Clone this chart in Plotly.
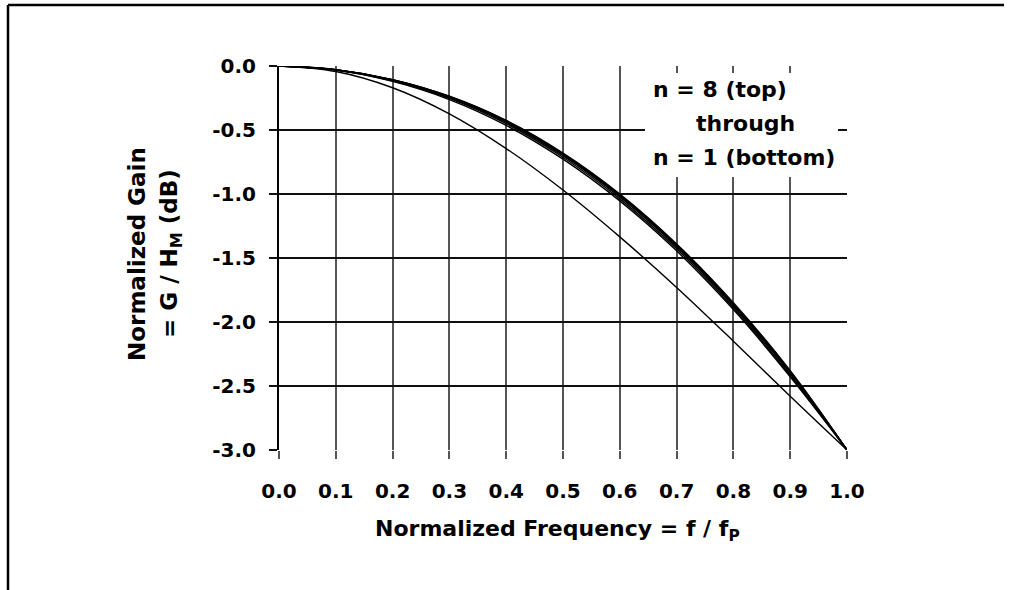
import plotly.graph_objects as go

# ---- data ----
freq = [0.0, 0.1, 0.2, 0.3, 0.4, 0.5, 0.6, 0.7, 0.8, 0.9, 1.0]

gain_n1 = [0.0, -0.043, -0.170, -0.374, -0.645, -0.969, -1.335, -1.730, -2.150, -2.580, -3.0]
gain_n2 = [0.0, -0.032, -0.120, -0.262, -0.464, -0.728, -1.054, -1.444, -1.903, -2.428, -3.0]
gain_n3 = [0.0, -0.031, -0.115, -0.253, -0.451, -0.713, -1.038, -1.428, -1.889, -2.416, -3.0]
gain_n4 = [0.0, -0.030, -0.111, -0.246, -0.441, -0.700, -1.024, -1.414, -1.875, -2.404, -3.0]
gain_n5 = [0.0, -0.029, -0.109, -0.242, -0.435, -0.693, -1.016, -1.406, -1.867, -2.396, -3.0]
gain_n6 = [0.0, -0.029, -0.108, -0.240, -0.431, -0.688, -1.010, -1.400, -1.861, -2.390, -3.0]
gain_n7 = [0.0, -0.028, -0.107, -0.238, -0.428, -0.684, -1.005, -1.395, -1.855, -2.385, -3.0]
gain_n8 = [0.0, -0.028, -0.106, -0.236, -0.425, -0.680, -1.000, -1.390, -1.850, -2.380, -3.0]

series_names = ["n = 1", "n = 2", "n = 3", "n = 4", "n = 5", "n = 6", "n = 7", "n = 8"]
series_values = [gain_n1, gain_n2, gain_n3, gain_n4, gain_n5, gain_n6, gain_n7, gain_n8]

x_ticks = [0.0, 0.1, 0.2, 0.3, 0.4, 0.5, 0.6, 0.7, 0.8, 0.9, 1.0]
y_ticks = [0.0, -0.5, -1.0, -1.5, -2.0, -2.5, -3.0]

# ---- figure ----
W, H = 1013, 590
L, R, T, B = 279, 847, 66, 450  # plot area in pixels

def px(xp):
    return (xp - L) / (R - L)

def py(yp):
    return (B - yp) / (B - T)

FONT = "DejaVu Sans, Liberation Sans, Arial, sans-serif"

fig = go.Figure()
for name, vals in zip(series_names, series_values):
    fig.add_trace(go.Scatter(
        x=freq, y=vals, mode="lines", name=name,
        line=dict(color="black", width=1.4, shape="spline", smoothing=1.0),
        showlegend=False,
    ))

fig.update_layout(
    width=W, height=H,
    margin=dict(l=L, r=W - R, t=T, b=H - B, pad=0),
    paper_bgcolor="white", plot_bgcolor="white",
    font=dict(family=FONT, color="black"),
)

fig.update_xaxes(
    range=[0, 1], tickvals=x_ticks, ticktext=[f"{v:.1f}" for v in x_ticks],
    showgrid=True, gridcolor="#555555", gridwidth=1.6,
    ticks="outside", ticklen=8, tickwidth=1.6, tickcolor="#555555",
    tickfont=dict(family=FONT, size=20, weight="bold"),
    ticklabelstandoff=15,
    zeroline=False, showline=False,
)
fig.update_yaxes(
    range=[-3, 0], tickvals=y_ticks, ticktext=[f"{v:.1f}" for v in y_ticks],
    showgrid=True, gridcolor="#111111", gridwidth=1.6,
    ticks="outside", ticklen=8, tickwidth=1.6, tickcolor="#111111",
    tickfont=dict(family=FONT, size=20, weight="bold"),
    ticklabelstandoff=9,
    zeroline=False, showline=True, linecolor="black", linewidth=2,
)

# outer frame (top and left edges)
fig.add_shape(type="line", xref="paper", yref="paper",
              x0=px(8), x1=px(1004), y0=py(5), y1=py(5),
              line=dict(color="black", width=2.5))
fig.add_shape(type="line", xref="paper", yref="paper",
              x0=px(8), x1=px(8), y0=py(5), y1=py(592),
              line=dict(color="black", width=2.5))

# white box behind the annotation text
fig.add_shape(type="rect", xref="paper", yref="paper", layer="above",
              x0=px(645), x1=px(838), y0=py(177), y1=py(73),
              fillcolor="white", line=dict(width=0))

note_font = dict(family=FONT, size=22, color="black", weight="bold")
for txt, xl, yc in [("n = 8 (top)", 651, 89), ("through", 694, 124), ("n = 1 (bottom)", 651, 157)]:
    fig.add_annotation(xref="paper", yref="paper", x=px(xl), y=py(yc),
                       text=txt, showarrow=False, xanchor="left", yanchor="middle",
                       font=note_font)

# axis titles
fig.add_annotation(xref="paper", yref="paper", x=px(557), y=py(530),
                   text="Normalized Frequency = f / f<sub>P</sub>", showarrow=False,
                   xanchor="center", yanchor="middle",
                   font=dict(family=FONT, size=22, color="black", weight="bold"))
ytitle_font = dict(family=FONT, size=23, color="black", weight="bold")
fig.add_annotation(xref="paper", yref="paper", x=px(137), y=py(254),
                   text="Normalized Gain", showarrow=False, textangle=-90,
                   xanchor="center", yanchor="middle", font=ytitle_font)
fig.add_annotation(xref="paper", yref="paper", x=px(171), y=py(254),
                   text="= G / H<sub>M</sub> (dB)", showarrow=False, textangle=-90,
                   xanchor="center", yanchor="middle", font=ytitle_font)

fig.write_html("out.html", config={"displayModeBar": False},
               post_script="document.body.style.margin = '0px';")
